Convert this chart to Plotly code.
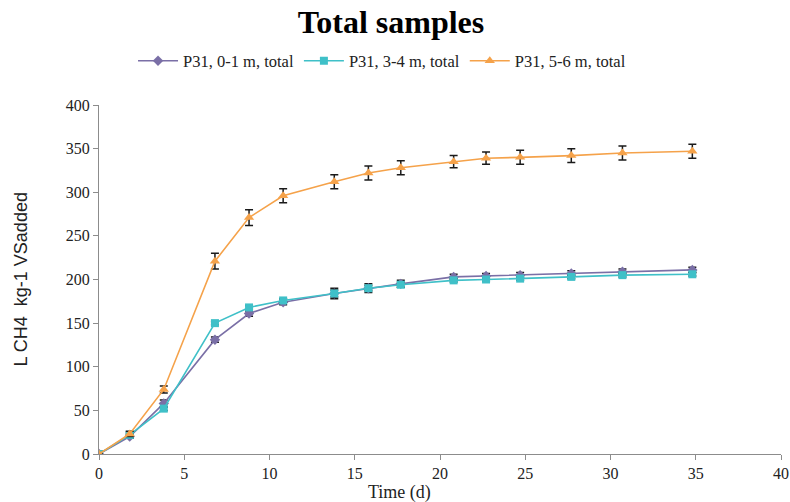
import plotly.graph_objects as go

days = [0, 1.8, 3.8, 6.8, 8.8, 10.8, 13.8, 15.8, 17.7, 20.8, 22.7, 24.7, 27.7, 30.7, 34.8]

p31_0_1 = [0, 20, 58, 131, 161, 174, 184, 190, 195, 203, 204, 205, 207, 209, 211]
p31_0_1_err = [0, 2, 4, 3, 3, 3, 6, 5, 4, 3, 3, 3, 3, 3, 3]

p31_3_4 = [0, 22, 52, 150, 168, 176, 184, 190, 194, 199, 200, 201, 203, 205, 206]
p31_3_4_err = [0, 2, 2, 2, 2, 2, 4, 3, 3, 2, 2, 2, 2, 2, 2]

p31_5_6 = [0, 23, 74, 221, 271, 296, 312, 322, 328, 335, 339, 340, 342, 345, 347]
p31_5_6_err = [0, 3, 4, 9, 9, 8, 8, 8, 8, 7, 7, 8, 8, 8, 8]

series = [
    ("P31, 0-1 m, total", p31_0_1, p31_0_1_err, "#7a6fa6", "diamond", 8),
    ("P31, 3-4 m, total", p31_3_4, p31_3_4_err, "#3fc0c8", "square", 8),
    ("P31, 5-6 m, total", p31_5_6, p31_5_6_err, "#f5a24a", "triangle-up", 9),
]

fig = go.Figure()
for name, vals, err, color, sym, size in series:
    fig.add_trace(go.Scatter(
        x=days, y=vals, name=name, mode="lines+markers",
        line=dict(color=color, width=1.6),
        marker=dict(symbol=sym, size=size, color=color),
        error_y=dict(type="data", array=err, visible=True, color="#1a1a1a",
                     thickness=1.5, width=4),
    ))

serif = "Liberation Serif"
fig.update_layout(
    width=790, height=502,
    paper_bgcolor="white", plot_bgcolor="white",
    margin=dict(l=99, r=9, t=105, b=48),
    title=dict(text="<b>Total samples</b>", x=0.495, xanchor="center",
               y=0.956, yanchor="middle",
               font=dict(family=serif, size=32, color="black")),
    legend=dict(orientation="h", x=0.415, xanchor="center", y=1.126,
                yanchor="middle", font=dict(family=serif, size=16.5, color="#222"),
                itemwidth=40, traceorder="normal"),
    showlegend=True,
    annotations=[
        dict(text="Time (d)", xref="paper", yref="paper", x=0.44, y=-0.109,
             xanchor="center", yanchor="middle", showarrow=False,
             font=dict(family=serif, size=18, color="#222")),
        dict(text="L CH4  kg-1 VSadded", xref="paper", yref="paper",
             x=-0.1158, y=0.5, xanchor="center", yanchor="middle",
             textangle=-90, showarrow=False,
             font=dict(family="Liberation Sans", size=18, color="#222")),
    ],
)
fig.update_xaxes(
    range=[0, 40], tick0=0, dtick=5, showgrid=False, zeroline=False,
    automargin=False, ticklabeloverflow="allow",
    showline=True, linecolor="#8c8c8c", linewidth=1.2,
    ticks="outside", ticklen=5, tickcolor="#8c8c8c",
    tickfont=dict(family=serif, size=16, color="#222"),
)
fig.update_yaxes(
    range=[0, 400], tick0=0, dtick=50, showgrid=False, zeroline=False,
    automargin=False,
    showline=True, linecolor="#8c8c8c", linewidth=1.2,
    ticks="outside", ticklen=5, tickcolor="#8c8c8c",
    tickfont=dict(family=serif, size=16, color="#222"),
)

fig.write_html(
    "out.html",
    config={"displayModeBar": False},
    post_script="document.body.style.margin='0';document.body.style.overflow='hidden';",
)
